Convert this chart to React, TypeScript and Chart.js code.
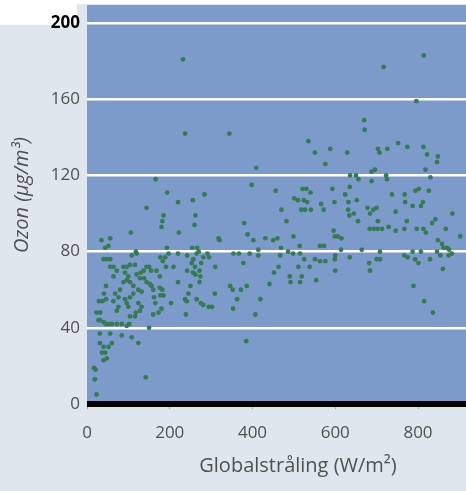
import React, { useEffect, useRef } from "react";
import { Chart, registerables } from "chart.js";

Chart.register(...registerables);

const radiation = [
  232, 814, 717, 796, 237, 344, 670, 671, 535, 752, 726, 774, 551, 588, 703, 707, 629, 813, 822, 848,
  846, 576, 409, 818, 636, 650, 656, 688, 696, 688, 723, 725, 830, 166, 398, 593, 635, 456, 521, 530,
  540, 794, 802, 826, 194, 284, 624, 737, 768, 769, 256, 220, 144, 501, 510, 524, 532, 518, 527, 541,
  566, 572, 598, 632, 652, 631, 678, 684, 692, 700, 746, 787, 807, 812, 470, 634, 645, 883, 185, 182,
  180, 262, 260, 380, 482, 596, 599, 606, 655, 773, 767, 703, 702, 683, 693, 713, 729, 746, 797, 813,
  819, 834, 842, 867, 848, 902, 106, 222, 320, 388, 402, 431, 450, 460, 469, 499, 514, 563, 573, 614,
  664, 708, 787, 807, 858, 862, 870, 875, 846, 854, 874, 882, 767, 775, 793, 801, 829, 860, 700, 708,
  682, 684, 635, 600, 599, 600, 551, 554, 563, 576, 515, 525, 538, 486, 498, 511, 519, 515, 490, 492,
  467, 463, 452, 441, 414, 414, 393, 378, 354, 367, 346, 352, 363, 353, 386, 372, 419, 407, 385, 318,
  310, 309, 291, 295, 281, 276, 272, 274, 272, 265, 257, 253, 261, 254, 266, 270, 242, 242, 265, 275,
  281, 294, 302, 245, 237, 241, 250, 256, 262, 239, 220, 209, 220, 193, 197, 189, 191, 183, 177, 168,
  176, 203, 176, 182, 177, 185, 165, 173, 180, 160, 150, 155, 150, 144, 137, 130, 120, 116, 104, 128,
  138, 144, 152, 156, 160, 162, 120, 118, 108, 96, 88, 92, 100, 104, 96, 112, 124, 132, 124, 132,
  128, 112, 104, 88, 80, 76, 68, 64, 72, 92, 96, 100, 76, 64, 72, 64, 56, 48, 56, 40,
  35, 44, 56, 52, 46, 41, 38, 46, 29, 32, 40, 46, 52, 60, 31, 23, 28, 72, 84, 96,
  102, 104, 116, 118, 84, 108, 124, 56, 60, 52, 31, 40, 36, 44, 48, 40, 17, 21, 19, 23,
  142, 31, 789, 815, 836, 615,
];

const ozone = [
  181, 183, 177, 159, 142, 142, 149, 144, 138, 137, 134, 135, 132, 134, 134, 132, 132, 135, 131, 130,
  127, 126, 124, 123, 120, 120, 118, 122, 123, 117, 120, 118, 119, 118, 115, 113, 114, 112, 113, 113,
  111, 112, 113, 112, 111, 110, 110, 110, 110, 106, 107, 106, 103, 108, 107, 107, 106, 102, 102, 102,
  105, 102, 106, 106, 107, 102, 103, 100, 102, 103, 101, 104, 104, 106, 102, 99, 100, 100, 99, 96,
  93, 99, 94, 95, 96, 91, 88, 88, 96, 96, 92, 96, 92, 92, 92, 92, 93, 91, 92, 92,
  90, 95, 97, 92, 86, 88, 90, 90, 86, 89, 86, 87, 86, 87, 82, 88, 83, 83, 83, 81,
  81, 80, 80, 80, 84, 82, 82, 81, 80, 78, 78, 79, 78, 77, 76, 74, 76, 71, 76, 76,
  74, 70, 77, 78, 76, 70, 76, 65, 75, 75, 79, 76, 72, 80, 79, 72, 67, 64, 67, 64,
  78, 72, 69, 63, 81, 78, 79, 74, 79, 79, 62, 60, 55, 50, 62, 60, 55, 47, 33, 87,
  72, 58, 79, 77, 77, 74, 70, 67, 64, 79, 76, 74, 72, 82, 82, 80, 78, 70, 55, 53,
  52, 51, 51, 58, 55, 54, 62, 69, 68, 47, 64, 72, 79, 82, 79, 77, 72, 75, 77, 70,
  67, 53, 61, 60, 57, 57, 53, 48, 50, 47, 40, 70, 72, 72, 70, 69, 68, 73, 73, 66,
  66, 64, 63, 62, 60, 56, 79, 80, 78, 72, 72, 69, 67, 64, 65, 62, 60, 59, 53, 51,
  49, 58, 56, 64, 60, 56, 58, 54, 49, 55, 53, 51, 51, 67, 70, 72, 72, 76, 76, 76,
  86, 82, 87, 83, 62, 58, 54, 55, 54, 48, 43, 42, 42, 42, 44, 48, 44, 42, 42, 41,
  42, 46, 46, 48, 36, 35, 32, 37, 32, 30, 32, 30, 27, 27, 24, 23, 19, 18, 13, 5,
  14, 37, 62, 54, 48, 87,
];

const yTicks = [0, 40, 80, 120, 160, 200];
const xTicks = [0, 200, 400, 600, 800];
const xTitle = "Globalstråling (W/m²)";
const yTitle = "Ozon (µg/m³)";

export default function App() {
  const ref = useRef<HTMLCanvasElement>(null);

  useEffect(() => {
    document.body.style.margin = "0";
    const canvas = ref.current;
    if (!canvas) return;

    const bgPlugin = {
      id: "bgPlugin",
      beforeDraw(chart: any) {
        const { ctx, chartArea: a, width, height } = chart;
        ctx.save();
        ctx.fillStyle = "#e0e6ee";
        ctx.fillRect(0, 0, width, height);
        ctx.fillStyle = "#ffffff";
        ctx.fillRect(0, 0, 77, 25);
        ctx.fillRect(0, 0, width, 4);
        ctx.fillStyle = "#7c9bcb";
        ctx.fillRect(a.left, a.top, a.right - a.left, a.bottom - a.top);
        ctx.restore();
      },
    };

    const titlePlugin = {
      id: "titlePlugin",
      afterDraw(chart: any) {
        const { ctx } = chart;
        ctx.save();
        ctx.fillStyle = "#505050";
        ctx.font = "20px 'Open Sans', sans-serif";
        ctx.textAlign = "center";
        ctx.textBaseline = "middle";
        ctx.fillText(xTitle, 298, 466);
        ctx.translate(22, 195);
        ctx.rotate(-Math.PI / 2);
        ctx.font = "italic 20px 'Open Sans', sans-serif";
        ctx.fillText(yTitle, 0, 0);
        ctx.restore();
      },
    };

    const points = radiation.map((x, i) => ({ x, y: ozone[i] }));

    const chart = new Chart(canvas, {
      type: "scatter",
      data: {
        datasets: [
          {
            data: points,
            backgroundColor: "#367a56",
            borderWidth: 0,
            pointRadius: 2.4,
          },
        ],
      },
      options: {
        animation: false,
        responsive: false,
        devicePixelRatio: 1,
        layout: { autoPadding: false, padding: { top: 5, right: 0, left: 0, bottom: 0 } },
        plugins: { legend: { display: false }, tooltip: { enabled: false } },
        scales: {
          x: {
            type: "linear",
            min: 0,
            max: 916,
            afterBuildTicks: (s: any) => {
              s.ticks = xTicks.map((v) => ({ value: v }));
            },
            afterFit: (s: any) => {
              s.height = 87;
              s.paddingLeft = 0;
              s.paddingRight = 0;
            },
            border: { display: false },
            grid: {
              drawOnChartArea: false,
              drawTicks: true,
              tickLength: 5,
              color: "#9aa4b0",
              lineWidth: 1,
            },
            ticks: {
              padding: 14,
              color: "#505050",
              font: { family: "'Open Sans', sans-serif", size: 17 },
            },
          },
          y: {
            type: "linear",
            min: 0,
            max: 209.5,
            afterBuildTicks: (s: any) => {
              s.ticks = yTicks.map((v) => ({ value: v }));
            },
            afterFit: (s: any) => {
              s.width = 87;
              s.paddingTop = 0;
              s.paddingBottom = 0;
            },
            border: { display: false },
            grid: {
              drawTicks: false,
              color: (c: any) => (c.tick && c.tick.value === 0 ? "#000000" : "#ffffff"),
              lineWidth: (c: any) => (c.tick && c.tick.value === 0 ? 6 : 2.5),
            },
            ticks: {
              padding: 7,
              color: (c: any) => (c.tick && c.tick.value === 200 ? "#000000" : "#505050"),
              font: (c: any) => ({
                family: "'Open Sans', sans-serif",
                size: 17,
                weight: c.tick && c.tick.value === 200 ? "bold" : "normal",
              }),
            },
          },
        },
      },
      plugins: [bgPlugin, titlePlugin],
    });

    return () => chart.destroy();
  }, []);

  return (
    <div style={{ width: 466, height: 491 }}>
      <canvas ref={ref} width={466} height={491} style={{ display: "block" }} />
    </div>
  );
}
